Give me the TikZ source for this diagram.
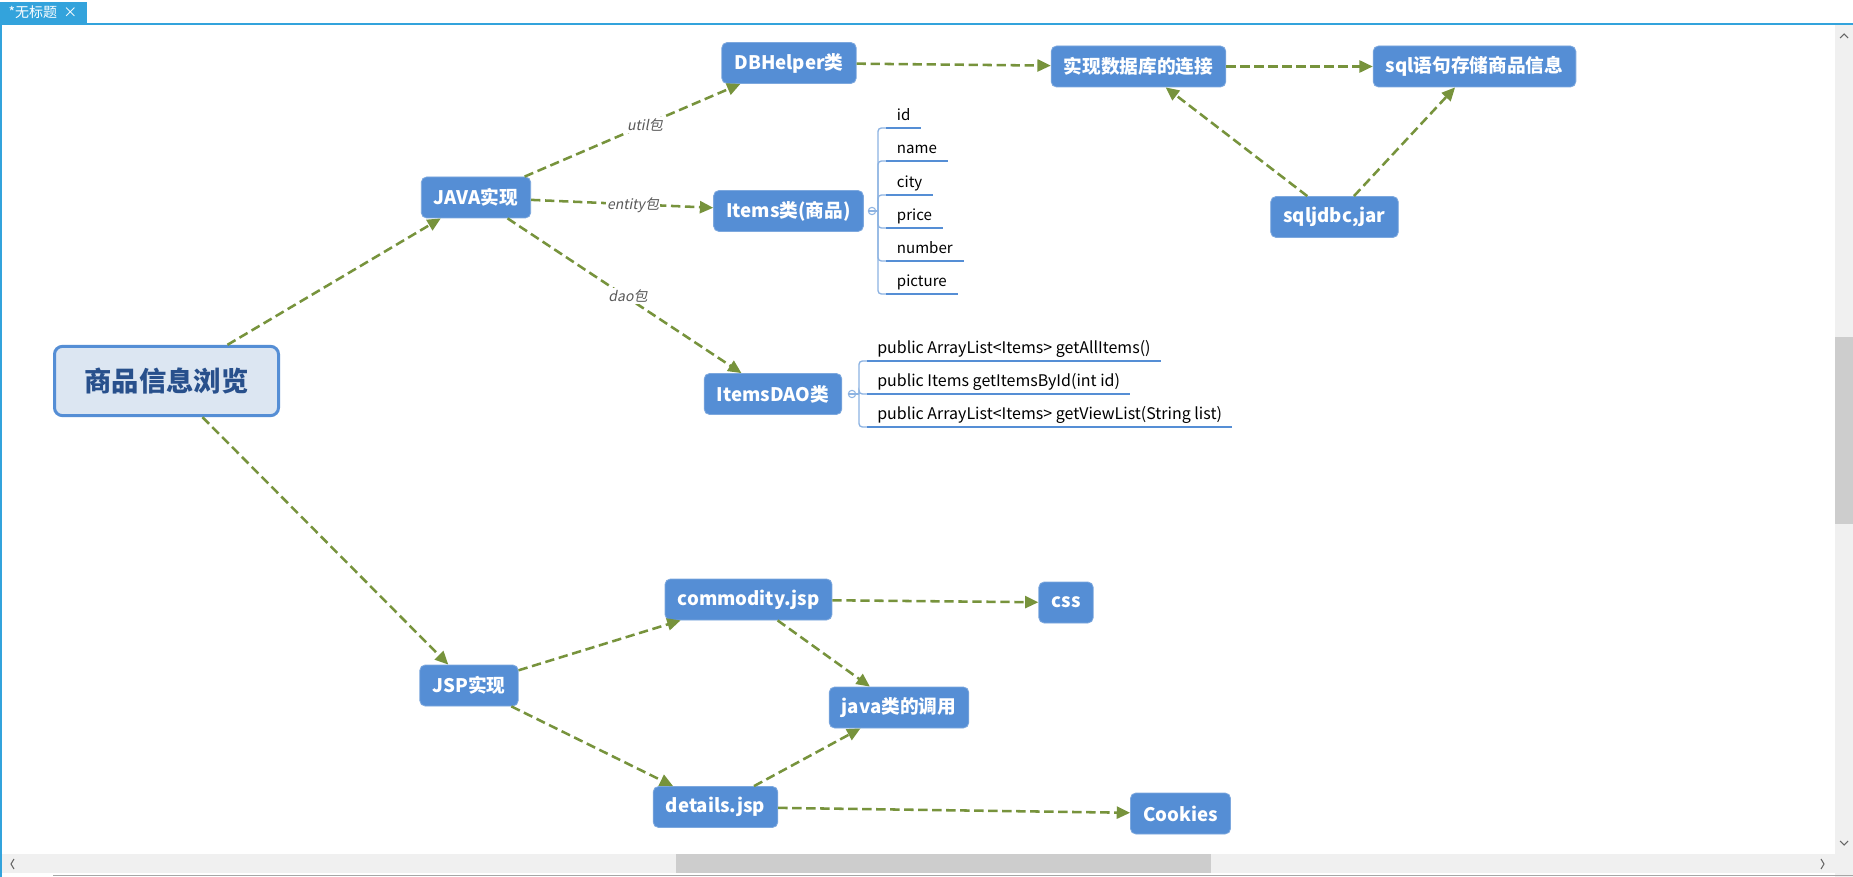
\documentclass[tikz,border=0pt]{standalone}
\usepackage{fontspec}
\setmainfont{Noto Sans CJK SC}[AutoFakeSlant=0.2]
\usetikzlibrary{arrows.meta}

\definecolor{topicblue}{RGB}{85,142,213}
\definecolor{topicedge}{RGB}{125,168,222}
\definecolor{rootfill}{RGB}{220,230,242}
\definecolor{roottext}{RGB}{40,80,140}
\definecolor{linkgreen}{RGB}{119,147,60}
\definecolor{brkblue}{RGB}{141,179,226}
\definecolor{tabblue}{RGB}{51,163,220}
\definecolor{barbg}{RGB}{240,240,240}
\definecolor{barthumb}{RGB}{205,205,205}
\definecolor{labelgray}{RGB}{89,89,89}

\tikzset{
	topic/.style={rectangle, rounded corners=4pt, fill=topicblue, draw=topicedge, line width=0.6pt,
		text=white, font=\bfseries\fontsize{14}{16}\selectfont, minimum height=30.75pt, inner xsep=9.5pt},
	root/.style={rectangle, rounded corners=6pt, fill=rootfill, draw=topicblue, line width=2.25pt,
		text=roottext, font=\bfseries\fontsize{20.5}{24}\selectfont, minimum width=168pt, minimum height=52pt},
	link/.style={draw=linkgreen, line width=1.9pt, dash pattern=on 7pt off 3.5pt,
		-{Triangle[length=10pt,width=9pt]}},
	pkg/.style={fill=white, text=labelgray, font=\itshape\fontsize{10.5}{12}\selectfont, inner sep=1pt},
	field/.style={anchor=south west, font=\fontsize{11.3}{13}\selectfont, inner xsep=8pt, inner ysep=3pt,
		text height=8pt, text depth=2.5pt},
	method/.style={field, font=\fontsize{12}{14}\selectfont, inner xsep=7.5pt},
	uline/.style={draw=topicblue, line width=1.9pt},
	brk/.style={draw=brkblue, line width=1pt, rounded corners=2.5pt},
	fold/.style={circle, draw=brkblue, fill=white, line width=0.8pt, minimum size=5.5pt, inner sep=0pt},
	chev/.style={draw=gray!80!black, line width=0.8pt},
}

\begin{document}
\begin{tikzpicture}[x=0.75pt,y=-0.75pt]
	\useasboundingbox (0,0) rectangle (1853,877);
	
	% window frame
	\fill[white] (0,0) rectangle (1853,877);
	\fill[tabblue] (0,2) rectangle (87,23);
	\node[text=white, font=\fontsize{10.5}{12}\selectfont, inner sep=0pt] (tab) at (43,12.5) {*无标题\ \ ×};
	\fill[tabblue] (0,23) rectangle (1853,25);
	\fill[tabblue] (0,25) rectangle (2,877);
	\fill[barbg] (1835,25) rectangle (1853,877);
	\fill[barthumb] (1835,337) rectangle (1853,524);
	\fill[barbg] (2,854) rectangle (1835,873);
	\fill[barthumb] (676,854) rectangle (1211,873);
	\draw[gray!70, line width=0.8pt] (53,875.5) -- (1853,875.5);
	\draw[chev] (1840,38) -- (1844,34) -- (1848,38);
	\draw[chev] (1840,841) -- (1844,845) -- (1848,841);
	\draw[chev] (14,859) -- (11,864) -- (14,869);
	\draw[chev] (1821,859) -- (1824,864) -- (1821,869);
	
	% topics
	\node[root] (Root) at (166.5,381) {商品信息浏览};
	\node[topic] (JV) at (476,197.5) {JAVA实现};
	\node[topic] (DB) at (789,63) {DBHelper类};
	\node[topic] (It) at (788.5,211) {Items类(商品)};
	\node[topic] (DAO) at (773,394) {ItemsDAO类};
	\node[topic] (Conn) at (1138.5,66.5) {实现数据库的连接};
	\node[topic] (Sql) at (1474.5,66.5) {sql语句存储商品信息};
	\node[topic] (Jdbc) at (1334.5,217) {sqljdbc,jar};
	\node[topic] (JSP) at (469,685.5) {JSP实现};
	\node[topic] (Com) at (748.5,599.5) {commodity.jsp};
	\node[topic] (Css) at (1066,602.5) {css};
	\node[topic] (Jc) at (899,707.5) {java类的调用};
	\node[topic] (Det) at (715.5,807) {details.jsp};
	\node[topic] (Ck) at (1180.5,813.5) {Cookies};
	
	% links
	\draw[link] (Root)--(JV);
	\draw[link] (Root)--(JSP);
	\draw[link] (JV)--(DB);
	\draw[link] (JV)--(It);
	\draw[link] (JV)--(DAO);
	\draw[link] (DB)--(Conn);
	\draw[link] (Conn)--(Sql);
	\draw[link] (Jdbc)--(Conn);
	\draw[link] (Jdbc)--(Sql);
	\draw[link] (JSP)--(Com);
	\draw[link] (JSP)--(Det);
	\draw[link] (Com)--(Css);
	\draw[link] (Com)--(Jc);
	\draw[link] (Det)--(Jc);
	\draw[link] (Det)--(Ck);
	
	\node[pkg] (util) at (645,125) {util包};
	\node[pkg] (entity) at (633,205) {entity包};
	\node[pkg] (dao) at (628,296) {dao包};
	
	% Items fields
	\node[fold] (ItF) at (872,211) {};
	\draw[brk] (ItF.west) -- (ItF.east);
	\node[field] (fid) at (886,128) {id};
	\node[field] (fname) at (886,161) {name};
	\node[field] (fcity) at (886,195) {city};
	\node[field] (fprice) at (886,228) {price};
	\node[field] (fnum) at (886,261) {number};
	\node[field] (fpic) at (886,294) {picture};
	\draw[brk] (ItF.east) -- (878,211);
	\draw[brk] (878,211) |- (fid.south west);
	\draw[brk] (878,211) |- (fname.south west);
	\draw[brk] (878,211) |- (fcity.south west);
	\draw[brk] (878,211) |- (fprice.south west);
	\draw[brk] (878,211) |- (fnum.south west);
	\draw[brk] (878,211) |- (fpic.south west);
	\draw[uline] (fid.south west) -- (fid.south east);
	\draw[uline] (fname.south west) -- (fname.south east);
	\draw[uline] (fcity.south west) -- (fcity.south east);
	\draw[uline] (fprice.south west) -- (fprice.south east);
	\draw[uline] (fnum.south west) -- (fnum.south east);
	\draw[uline] (fpic.south west) -- (fpic.south east);
	
	% ItemsDAO methods
	\node[fold] (DAOF) at (852,394) {};
	\draw[brk] (DAOF.west) -- (DAOF.east);
	\node[method] (mall) at (867,361) {public ArrayList<Items>\ getAllItems()};
	\node[method] (mid) at (867,394) {public Items getItemsById(int id)};
	\node[method] (mview) at (867,427) {public ArrayList<Items>\ getViewList(String list)};
	\draw[brk] (DAOF.east) -- (859,394);
	\draw[brk] (859,394) |- (mall.south west);
	\draw[brk] (859,394) |- (mid.south west);
	\draw[brk] (859,394) |- (mview.south west);
	\draw[uline] (mall.south west) -- (mall.south east);
	\draw[uline] (mid.south west) -- (mid.south east);
	\draw[uline] (mview.south west) -- (mview.south east);
\end{tikzpicture}
\end{document}
